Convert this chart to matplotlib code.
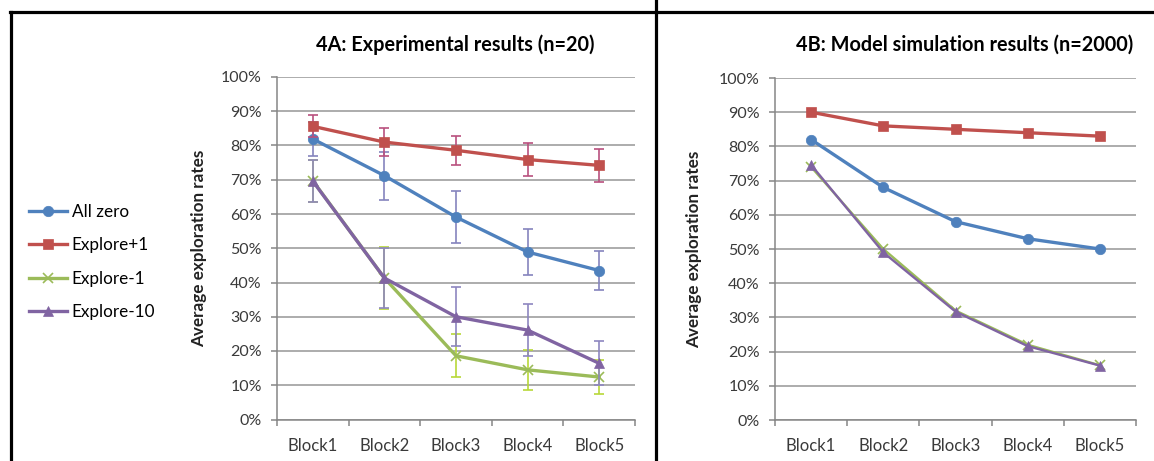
import matplotlib
matplotlib.use("Agg")
import matplotlib.pyplot as plt
from matplotlib.lines import Line2D
from matplotlib.ticker import PercentFormatter, FixedLocator, MultipleLocator

plt.rcParams["font.family"] = ["Lato", "DejaVu Sans"]

# ---- data ----
blocks = ["Block1", "Block2", "Block3", "Block4", "Block5"]
series_names = ["All zero", "Explore+1", "Explore-1", "Explore-10"]

exp_all_zero = [81.9, 71.2, 59.1, 48.9, 43.5]
exp_explore_p1 = [85.6, 81.0, 78.6, 75.9, 74.2]
exp_explore_m1 = [69.7, 41.3, 18.6, 14.5, 12.4]
exp_explore_m10 = [69.6, 41.3, 30.0, 26.1, 16.4]

err_all_zero = [5.0, 7.0, 7.5, 6.8, 5.6]
err_explore_p1 = [3.2, 4.2, 4.3, 4.8, 4.9]
err_explore_m1 = [6.1, 9.0, 6.3, 5.9, 4.9]
err_explore_m10 = [6.1, 8.7, 8.6, 7.6, 6.4]

sim_all_zero = [82.0, 68.0, 58.0, 53.0, 50.0]
sim_explore_p1 = [90.0, 86.0, 85.0, 84.0, 83.0]
sim_explore_m1 = [74.0, 50.0, 32.0, 22.0, 16.0]
sim_explore_m10 = [74.6, 49.0, 31.7, 21.6, 15.9]

# ---- styles ----
LINE_COLORS = ["#4F81BD", "#C0504D", "#9BBB59", "#8064A2"]
ERR_COLORS = ["#8584BE", "#B9507E", "#B7D838", "#8D86C0"]
MARKERS = ["o", "s", "x", "^"]
MARKER_SIZES = [7.5, 7, 7, 7.5]
GRID = "#A6A6A6"
TICK_TEXT = "#3A3A3A"


def style_axes(ax):
    ax.set_xlim(-0.5, len(blocks) - 0.5)
    ax.set_ylim(0, 100)
    ax.yaxis.set_major_locator(MultipleLocator(10))
    ax.yaxis.set_major_formatter(PercentFormatter(decimals=0))
    ax.xaxis.set_major_locator(FixedLocator([i - 0.5 for i in range(len(blocks) + 1)]))
    ax.xaxis.set_major_formatter(plt.NullFormatter())
    ax.xaxis.set_minor_locator(FixedLocator(range(len(blocks))))
    ax.set_xticklabels(blocks, minor=True)
    ax.tick_params(axis="x", which="minor", length=0, pad=13,
                   labelsize=12, labelcolor=TICK_TEXT)
    ax.tick_params(axis="x", which="major", length=4, width=1.1, color="#868686")
    ax.tick_params(axis="y", length=4, width=1.1, color="#868686", pad=7,
                   labelsize=11.5, labelcolor=TICK_TEXT)
    for side in ["top", "right"]:
        ax.spines[side].set_visible(False)
    for side in ["left", "bottom"]:
        ax.spines[side].set_color("#868686")
        ax.spines[side].set_linewidth(1.1)
    ax.yaxis.grid(True, color=GRID, linewidth=1.3)
    ax.set_axisbelow(True)
    ax.set_ylabel("Average exploration rates", fontsize=12.3, fontweight="bold",
                  color="#222222")


fig = plt.figure(figsize=(11.54, 4.61), dpi=100)
ax_a = fig.add_axes([277 / 1154, 41.5 / 461, 358 / 1154, 342.5 / 461])
ax_b = fig.add_axes([775 / 1154, 41 / 461, 361 / 1154, 342 / 461])

x = list(range(len(blocks)))

exp_values = [exp_all_zero, exp_explore_p1, exp_explore_m1, exp_explore_m10]
exp_errors = [err_all_zero, err_explore_p1, err_explore_m1, err_explore_m10]
handles = []
for i, (vals, errs) in enumerate(zip(exp_values, exp_errors)):
    ax_a.errorbar(x, vals, yerr=errs, fmt="none", ecolor=ERR_COLORS[i],
                  elinewidth=1.2, capsize=3.5, capthick=1.2, zorder=2 + i)
    (line,) = ax_a.plot(x, vals, color=LINE_COLORS[i], linewidth=2.4,
                        marker=MARKERS[i], markersize=MARKER_SIZES[i],
                        markeredgewidth=1.2 if MARKERS[i] == "x" else 0.5,
                        markeredgecolor=LINE_COLORS[i], label=series_names[i],
                        zorder=3 + i)
    handles.append(line)

sim_values = [sim_all_zero, sim_explore_p1, sim_explore_m1, sim_explore_m10]
for i, vals in enumerate(sim_values):
    lw = 2.4 if i < 2 else 1.7
    ax_b.plot(x, vals, color=LINE_COLORS[i], linewidth=lw,
              marker=MARKERS[i], markersize=MARKER_SIZES[i],
              markeredgewidth=1.2 if MARKERS[i] == "x" else 0.5,
              markeredgecolor=LINE_COLORS[i], zorder=3 + i)

style_axes(ax_a)
style_axes(ax_b)
ax_a.yaxis.set_label_coords(-0.196, 0.5)
ax_b.yaxis.set_label_coords(-0.202, 0.5)

fig.text(455 / 1154, 1 - 45 / 461, "4A: Experimental results (n=20)",
         ha="center", va="center", fontsize=14.3, fontweight="bold")
fig.text(965 / 1154, 1 - 45 / 461, "4B: Model simulation results (n=2000)",
         ha="center", va="center", fontsize=14.3, fontweight="bold")

fig.legend(handles=handles, loc="upper left",
           bbox_to_anchor=(29 / 1154, 1 - 204 / 461), frameon=False,
           fontsize=12.3, handlelength=2.2, handletextpad=0.3,
           labelspacing=1.02, borderpad=0, borderaxespad=0)

# frame lines around the panels
frame_kw = dict(color="black", linewidth=2.3, transform=fig.transFigure)
fig.add_artist(Line2D([10 / 1154, 1], [1 - 12 / 461, 1 - 12 / 461], **frame_kw))
fig.add_artist(Line2D([11 / 1154, 11 / 1154], [0, 1 - 12 / 461], **frame_kw))
fig.add_artist(Line2D([656 / 1154, 656 / 1154], [0, 1], **frame_kw))

fig.savefig("out.png", dpi=100)
